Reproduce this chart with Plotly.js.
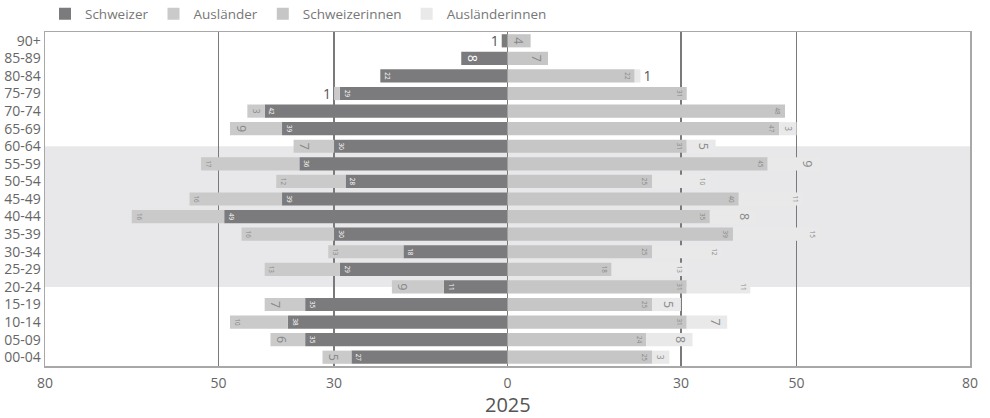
<!DOCTYPE html>
<html>
<head>
<meta charset="utf-8">
<script src="https://cdn.plot.ly/plotly-3.0.1.min.js"></script>
<style>html,body{margin:0;padding:0;background:#fff;}#chart{width:990px;height:418px;}</style>
</head>
<body>
<div id="chart"></div>
<script>
const ageGroups = ['00-04','05-09','10-14','15-19','20-24','25-29','30-34','35-39','40-44','45-49','50-54','55-59','60-64','65-69','70-74','75-79','80-84','85-89','90+'];
const schweizer      = [27, 35, 38, 35, 11, 29, 18, 30, 49, 39, 28, 36, 30, 39, 42, 29, 22, 8, 1];
const auslaender     = [5, 6, 10, 7, 9, 13, 13, 16, 16, 16, 12, 17, 7, 9, 3, 1, null, null, null];
const schweizerinnen = [25, 24, 31, 25, 31, 18, 25, 39, 35, 40, 25, 45, 31, 47, 48, 31, 22, 7, 4];
const auslaenderinnen= [3, 8, 7, 5, 11, 13, 12, 15, 8, 11, 10, 9, 5, 3, null, null, 1, null, null];
const xTickVals = [-80, -50, -30, 0, 30, 50, 80];
const xTickText = ['80', '50', '30', '0', '30', '50', '80'];
const yearLabel = '2025';

const neg = a => a.map(v => v == null ? null : -v);
const txt = a => a.map(v => v == null ? '' : String(v));

function barTrace(name, vals, negative, color, inColor) {
  return {
    type: 'bar', orientation: 'h', name: name,
    y: ageGroups, x: negative ? neg(vals) : vals,
    text: txt(vals), textposition: 'auto', textangle: 'auto',
    constraintext: 'inside',
    marker: {color: color},
    textfont: {size: 14, family: 'Open Sans'},
    insidetextfont: {color: inColor, size: 14},
    outsidetextfont: {color: '#555', size: 14},
    hoverinfo: 'skip'
  };
}

const data = [
  barTrace('Schweizer', schweizer, true, '#7b7b7d', '#ffffff'),
  barTrace('Ausländer', auslaender, true, '#cacaca', '#888888'),
  barTrace('Schweizerinnen', schweizerinnen, false, '#c6c6c6', '#888888'),
  barTrace('Ausländerinnen', auslaenderinnen, false, '#e9e9ea', '#888888')
];

const layout = {
  width: 990, height: 418,
  margin: {l: 45, r: 20, t: 32, b: 52},
  barmode: 'relative', bargap: 0.25,
  paper_bgcolor: '#fff', plot_bgcolor: '#fff',
  font: {family: 'Open Sans', color: '#666', size: 13},
  showlegend: true,
  legend: {orientation: 'h', xref: 'paper', x: 0, xanchor: 'left', yref: 'container', y: 1 - 14/418, yanchor: 'middle', font: {size: 13.5, color: '#777'}},
  xaxis: {
    range: [-80, 80], tickvals: xTickVals, ticktext: xTickText,
    showgrid: true, gridcolor: '#7a7a7a', gridwidth: 1.5, zeroline: false,
    showline: true, mirror: true, linecolor: '#a8a8a8', linewidth: 1.5,
    ticks: '', ticklabelstandoff: 4, tickfont: {size: 14, color: '#666'}
  },
  yaxis: {
    type: 'category', categoryorder: 'array', categoryarray: ageGroups,
    showgrid: false, showline: true, mirror: true, linecolor: '#a8a8a8', linewidth: 1.5,
    ticks: '', tickfont: {size: 14, color: '#666'}
  },
  annotations: [
    {text: yearLabel, xref: 'paper', x: 0.5, xanchor: 'center', yref: 'paper', y: -38.5/334, yanchor: 'middle', showarrow: false, font: {size: 20, color: '#555'}}
  ],
  shapes: [
    {type: 'rect', xref: 'paper', x0: 0, x1: 1, yref: 'y', y0: '20-24', y1: '60-64', fillcolor: '#e8e8ea', line: {width: 0}, layer: 'below'},
    {type: 'line', xref: 'x', x0: -30, x1: -30, yref: 'paper', y0: 0, y1: 1, line: {color: '#222', width: 1.5}, layer: 'below'}
  ]
};

Plotly.newPlot('chart', data, layout, {displayModeBar: false, staticPlot: true});
</script>
</body>
</html>
